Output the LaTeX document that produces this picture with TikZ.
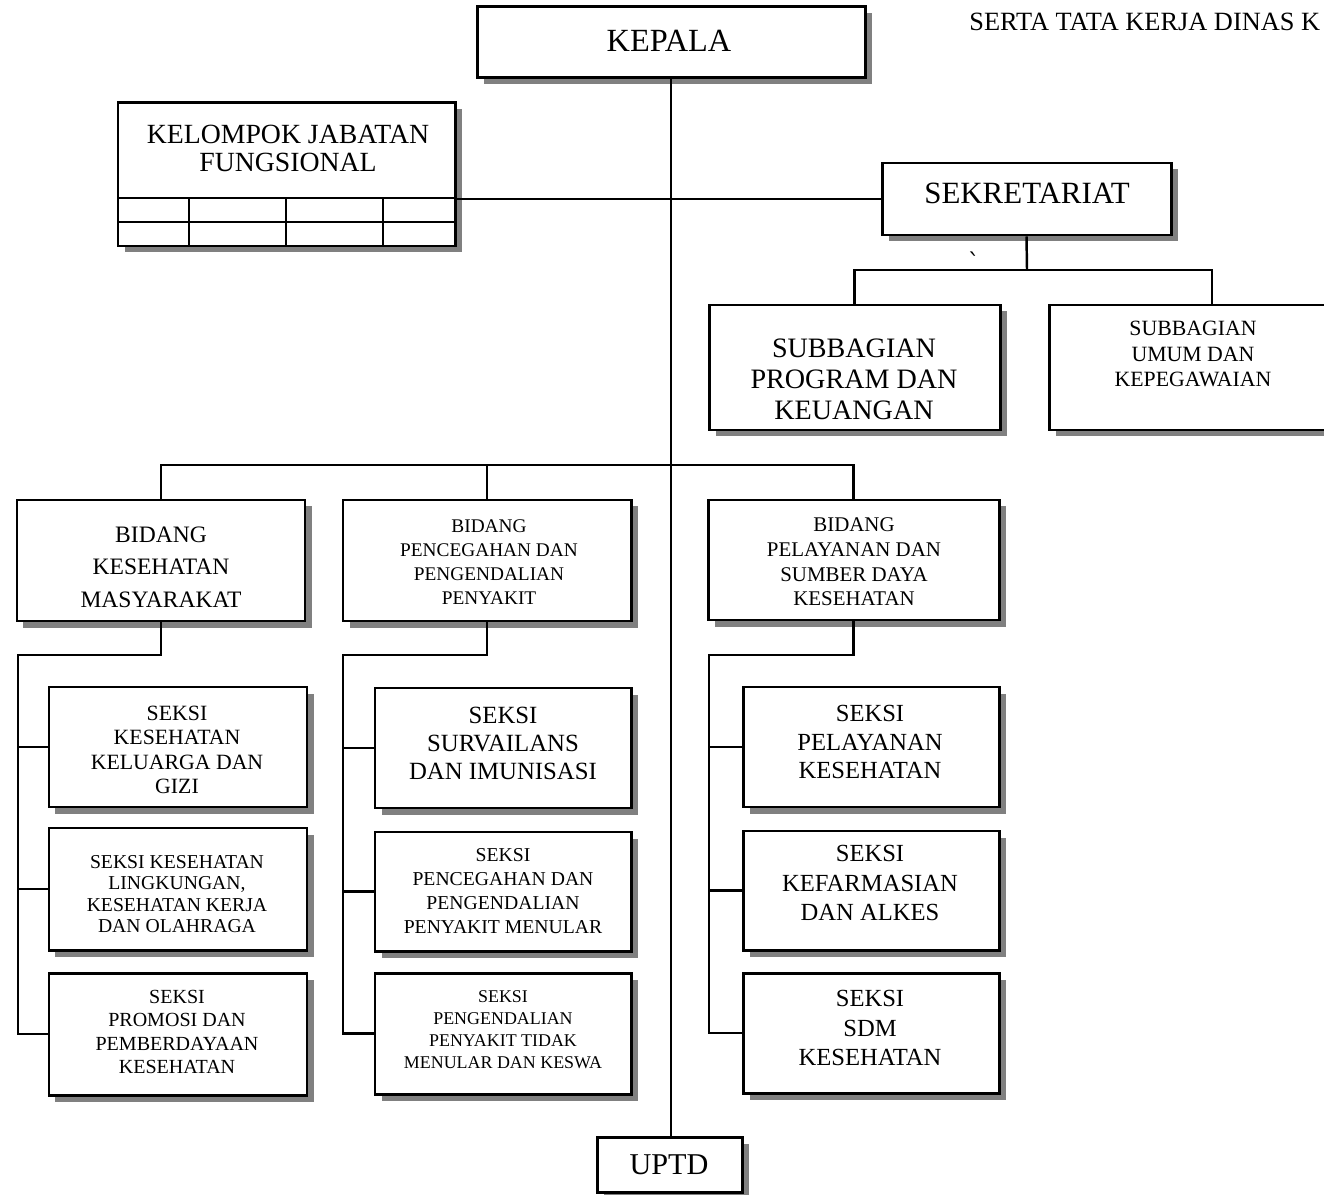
\documentclass[tikz,border=0pt]{standalone}
\usepackage{fontspec}
\setmainfont{Liberation Serif}
\newfontfamily\tickfont{DejaVu Serif}
\usetikzlibrary{fit,shadows}
\newcommand{\myfs}[2]{\fontsize{#1pt}{#2pt}\selectfont}
\tikzset{
  box/.style={draw, line width=1.7pt, fill=white, inner sep=0pt,
    drop shadow={shadow xshift=0.13cm, shadow yshift=-0.13cm, opacity=1, fill=black!50}},
  conn/.style={line width=1.4pt},
  gridline/.style={line width=1.4pt},
  lbl/.style={align=center, inner sep=0pt},
}
\begin{document}
\begin{tikzpicture}[x=0.02cm,y=-0.02cm]
\useasboundingbox (0,0) rectangle (1324,1195);

% header text (cut at the right edge)
\node[lbl, anchor=west, font={\myfs{15}{16}}] (serta) at (969,22) {SERTA TATA KERJA DINAS K};

% top level
\node[box, fit={(477,7) (865,78)}] (kepala) {};
\node[lbl, font={\myfs{18.4}{20}}] (tkepala) at (669,41) {KEPALA};

\node[box, fit={(118,103) (455,246)}] (kjf) {};
\node[lbl, font={\myfs{15.8}{15.9}}] (tkjf) at (288,148) {KELOMPOK JABATAN\\FUNGSIONAL};
\draw[gridline] (118,198) -- (455,198);
\draw[gridline] (118,222) -- (455,222);
\draw[gridline] (189,198) -- (189,246);
\draw[gridline] (286,198) -- (286,246);
\draw[gridline] (383,198) -- (383,246);

\node[box, fit={(882,163) (1171,235)}] (sek) {};
\node[lbl, font={\myfs{17.6}{19}}] (tsek) at (1027,193) {SEKRETARIAT};
\node[lbl, font={\tickfont\myfs{14}{14}}] (tick) at (974,262) {ˋ};

\node[box, fit={(709,305) (1000,430)}] (sub1) {};
\node[lbl, font={\myfs{16}{17.6}}] (tsub1) at (854,379) {SUBBAGIAN\\PROGRAM DAN\\KEUANGAN};
\node[box, fit={(1049,305) (1375,430)}] (sub2) {};
\node[lbl, font={\myfs{12.4}{14.7}}] (tsub2) at (1193,354) {SUBBAGIAN\\UMUM DAN\\KEPEGAWAIAN};

% bidang
\node[box, fit={(17,500) (305,621)}] (bkm) {};
\node[lbl, font={\myfs{13.4}{18.4}}] (tbkm) at (161,567) {BIDANG\\KESEHATAN\\MASYARAKAT};
\node[box, fit={(343,500) (631,621)}] (bpp) {};
\node[lbl, font={\myfs{11}{13.6}}] (tbpp) at (489,562) {BIDANG\\PENCEGAHAN DAN\\PENGENDALIAN\\PENYAKIT};
\node[box, fit={(708,500) (999,620)}] (bps) {};
\node[lbl, font={\myfs{11.9}{14}}] (tbps) at (854,562) {BIDANG\\PELAYANAN DAN\\SUMBER DAYA\\KESEHATAN};

% seksi left
\node[box, fit={(49,687) (307,807)}] (s11) {};
\node[lbl, font={\myfs{12.4}{13.8}}] (ts11) at (177,750) {SEKSI\\KESEHATAN\\KELUARGA DAN\\GIZI};
\node[box, fit={(49,828) (307,950)}] (s12) {};
\node[lbl, font={\myfs{11.2}{12.1}}] (ts12) at (177,894) {SEKSI KESEHATAN\\LINGKUNGAN,\\KESEHATAN KERJA\\DAN OLAHRAGA};
\node[box, fit={(49,973) (307,1095)}] (s13) {};
\node[lbl, font={\myfs{11.4}{13.2}}] (ts13) at (177,1032) {SEKSI\\PROMOSI DAN\\PEMBERDAYAAN\\KESEHATAN};

% seksi middle
\node[box, fit={(375,688) (631,808)}] (s21) {};
\node[lbl, font={\myfs{14.1}{15.9}}] (ts21) at (503,743) {SEKSI\\SURVAILANS\\DAN IMUNISASI};
\node[box, fit={(375,832) (631,951)}] (s22) {};
\node[lbl, font={\myfs{11.2}{13.6}}] (ts22) at (503,891) {SEKSI\\PENCEGAHAN DAN\\PENGENDALIAN\\PENYAKIT MENULAR};
\node[box, fit={(375,973) (631,1094)}] (s23) {};
\node[lbl, font={\myfs{10.2}{12.5}}] (ts23) at (503,1030) {SEKSI\\PENGENDALIAN\\PENYAKIT TIDAK\\MENULAR DAN KESWA};

% seksi right
\node[box, fit={(743,687) (999,807)}] (s31) {};
\node[lbl, font={\myfs{14}{16.2}}] (ts31) at (870,742) {SEKSI\\PELAYANAN\\KESEHATAN};
\node[box, fit={(743,831) (999,950)}] (s32) {};
\node[lbl, font={\myfs{14}{16.7}}] (ts32) at (870,883) {SEKSI\\KEFARMASIAN\\DAN ALKES};
\node[box, fit={(743,973) (999,1093)}] (s33) {};
\node[lbl, font={\myfs{14}{16.7}}] (ts33) at (870,1028) {SEKSI\\SDM\\KESEHATAN};

% UPTD
\node[box, fit={(597,1137) (742,1192)}] (uptd) {};
\node[lbl, font={\myfs{17.2}{18}}] (tuptd) at (669,1165) {UPTD};

% connectors
\draw[conn] (kepala.south) -- (kepala.south |- uptd.north);
\draw[conn] (kjf.east |- sek.west) -- (sek.west);

\coordinate (sbus) at (1027,270);
\coordinate (sub2in) at (1212,305);
\draw[conn] (sek.south) -- (sbus);
\draw[conn] (sub1.north) |- (sbus) -| (sub2in);

\coordinate (mbus) at (671,465);
\draw[conn] (bkm.north) |- (mbus) -| (bps.north);
\draw[conn] (bpp.north) -- (bpp.north |- mbus);

\coordinate (lc) at (18,655);
\coordinate (mc) at (343,655);
\coordinate (rc) at (709,655);
\draw[conn] (bkm.south) |- (lc) |- (s13.west);
\draw[conn] (lc) |- (s11.west);
\draw[conn] (lc) |- (s12.west);
\draw[conn] (bpp.south) |- (mc) |- (s23.west);
\draw[conn] (mc) |- (s21.west);
\draw[conn] (mc) |- (s22.west);
\draw[conn] (bps.south) |- (rc) |- (s33.west);
\draw[conn] (rc) |- (s31.west);
\draw[conn] (rc) |- (s32.west);
\end{tikzpicture}
\end{document}
